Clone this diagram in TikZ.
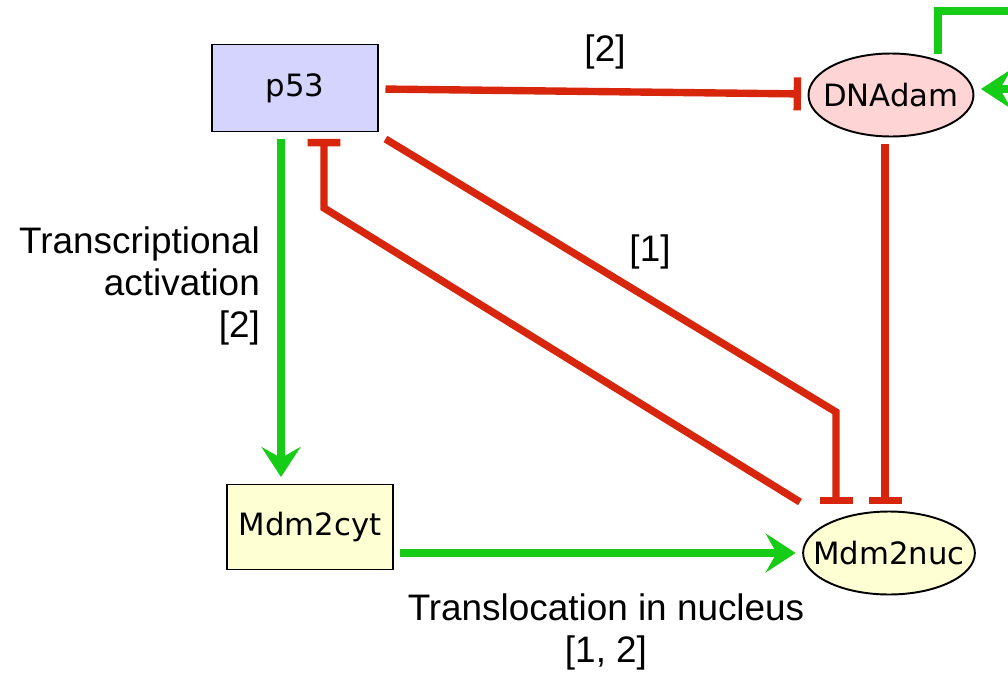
\documentclass[tikz,border=0pt]{standalone}
\usepackage{fontspec}
\setmainfont{Liberation Sans}
\newfontfamily\speciesfont{DejaVu Sans}
\usetikzlibrary{arrows.meta, positioning, shapes.geometric}

\definecolor{inhred}{RGB}{215,38,12}
\definecolor{actgreen}{RGB}{22,204,22}
\definecolor{p53blue}{RGB}{212,212,255}
\definecolor{dampink}{RGB}{255,212,212}
\definecolor{mdmyellow}{RGB}{255,255,212}

\begin{document}
\begin{tikzpicture}[
  x=0.02cm, y=-0.02cm,
  every node/.style={font=\fontsize{21}{24}\selectfont},
  species/.style={draw=black, line width=1.1pt, inner sep=0pt, outer sep=0.15cm,
                  font=\speciesfont\fontsize{17.5}{20}\selectfont},
  boxnode/.style={species, rectangle, minimum width=3.32cm, minimum height=1.74cm},
  ovalnode/.style={species, ellipse, inner xsep=-0.3cm,
                   minimum width=3.3cm, minimum height=1.66cm},
  activ/.style={draw=actgreen, line width=4pt,
                -{Stealth[length=0.6cm, width=0.78cm, inset=0.22cm]}},
  inhib/.style={draw=inhred, line width=4.2pt, -{Bar[width=0.66cm]}}]

  \path[use as bounding box, fill=white] (0,0) rectangle (1008,676);

  \node[boxnode,  fill=p53blue]   (p53) at (295, 88)  {p53};
  \node[ovalnode, fill=dampink]   (dna) at (891, 95)  {DNAdam};
  \node[boxnode,  fill=mdmyellow, minimum height=1.7cm] (cyt) at (310, 527) {Mdm2cyt};
  \node[ovalnode, fill=mdmyellow] (nuc) at (889, 553) {Mdm2nuc};

  \coordinate [left=0.28cm of p53.south]  (p53SL);
  \coordinate [right=0.58cm of p53.south] (p53SR);
  \coordinate [left=0.12cm of dna.south]  (dnaS);
  \coordinate (bendOne)  at (836, 412);
  \coordinate (bendBack) at (324, 208);
  \coordinate (nucNW)    at (800, 502);
  \coordinate (loopFoot) at (938, 54);
  \coordinate (loopTop)  at (1040, 11);

  % inhibitions
  \draw[inhib] (p53) -- (dna);
  \draw[inhib] (p53.south east) -- (bendOne) -- (bendOne |- nuc.north);
  \draw[inhib] (nucNW) -- (bendBack) -- (p53SR |- p53.south);
  \draw[inhib] (dnaS) -- (dnaS |- nuc.north);

  % activations
  \draw[activ] (p53SL) -- (p53SL |- cyt.north);
  \draw[activ] (cyt.east |- nuc.west) -- (nuc.west);
  \draw[activ] (loopFoot) |- (loopTop) |- ([yshift=0.12cm]dna.east);

  \node (lblTop) at (605, 52)  {[2]};
  \node (lblOne) at (650, 252) {[1]};
  \node[anchor=east, align=right] (lblTrans) at (266, 286)
    {Transcriptional\\activation\\{[2]}};
  \node[align=center] (lblLoc) at (606, 632)
    {Translocation in nucleus\\{[1, 2]}};

\end{tikzpicture}
\end{document}
